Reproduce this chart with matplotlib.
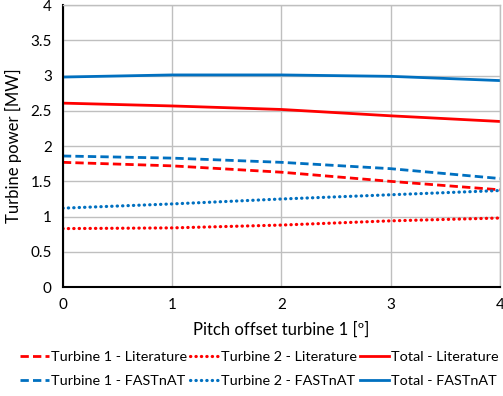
import matplotlib
matplotlib.use('Agg')
import matplotlib.pyplot as plt

plt.rcParams['font.family'] = ['Lato', 'DejaVu Sans']

# pitch offset of turbine 1 [deg]
pitch = [0, 1, 2, 3, 4]

# turbine power [MW]
t1_lit = [1.77, 1.72, 1.63, 1.50, 1.38]
t2_lit = [0.83, 0.84, 0.88, 0.94, 0.98]
tot_lit = [2.61, 2.57, 2.52, 2.43, 2.35]
t1_fast = [1.86, 1.83, 1.77, 1.68, 1.54]
t2_fast = [1.12, 1.18, 1.25, 1.31, 1.37]
tot_fast = [2.98, 3.01, 3.01, 2.99, 2.93]

red = '#FF0000'
blue = '#0070C0'

fig = plt.figure(figsize=(5.03, 3.96), dpi=100)
ax = fig.add_axes([0.125, 0.275, 0.869, 0.712])

lw = 2.0
dash = (0, (3, 1.5))
dot = (0, (0.1, 1.6))
l1, = ax.plot(pitch, t1_lit, color=red, lw=lw, ls=dash, label='Turbine 1 - Literature')
l2, = ax.plot(pitch, t2_lit, color=red, lw=2.3, ls=dot, dash_capstyle='round', label='Turbine 2 - Literature')
l3, = ax.plot(pitch, tot_lit, color=red, lw=lw, ls='-', label='Total - Literature')
l4, = ax.plot(pitch, t1_fast, color=blue, lw=lw, ls=dash, label='Turbine 1 - FASTnAT')
l5, = ax.plot(pitch, t2_fast, color=blue, lw=2.3, ls=dot, dash_capstyle='round', label='Turbine 2 - FASTnAT')
l6, = ax.plot(pitch, tot_fast, color=blue, lw=lw, ls='-', label='Total - FASTnAT')

ax.set_xlim(0, 4)
ax.set_ylim(0, 4)
ax.set_xticks([0, 1, 2, 3, 4])
ax.set_yticks([0, 0.5, 1, 1.5, 2, 2.5, 3, 3.5, 4])
ax.set_yticklabels(['0', '0.5', '1', '1.5', '2', '2.5', '3', '3.5', '4'])
ax.grid(True, color='#BFBFBF', lw=1.0)
ax.set_axisbelow(True)
for s in ['top', 'right']:
    ax.spines[s].set_color('#BFBFBF')
    ax.spines[s].set_linewidth(1.0)
for s in ['left', 'bottom']:
    ax.spines[s].set_color('black')
    ax.spines[s].set_linewidth(1.5)
ax.tick_params(length=0, labelsize=11, pad=8)
ax.set_xlabel('Pitch offset turbine 1 [º]', fontsize=12, labelpad=7)
ax.set_ylabel('Turbine power [MW]', fontsize=12, labelpad=6)

handles = [l1, l4, l2, l5, l3, l6]
fig.legend(handles=handles, labels=[h.get_label() for h in handles], ncol=3,
           loc='lower center', bbox_to_anchor=(0.515, -0.01), frameon=False,
           fontsize=10.4, handlelength=2.0, handletextpad=0.15, columnspacing=0.2,
           labelspacing=0.8)

fig.savefig('out.png', dpi=100)
